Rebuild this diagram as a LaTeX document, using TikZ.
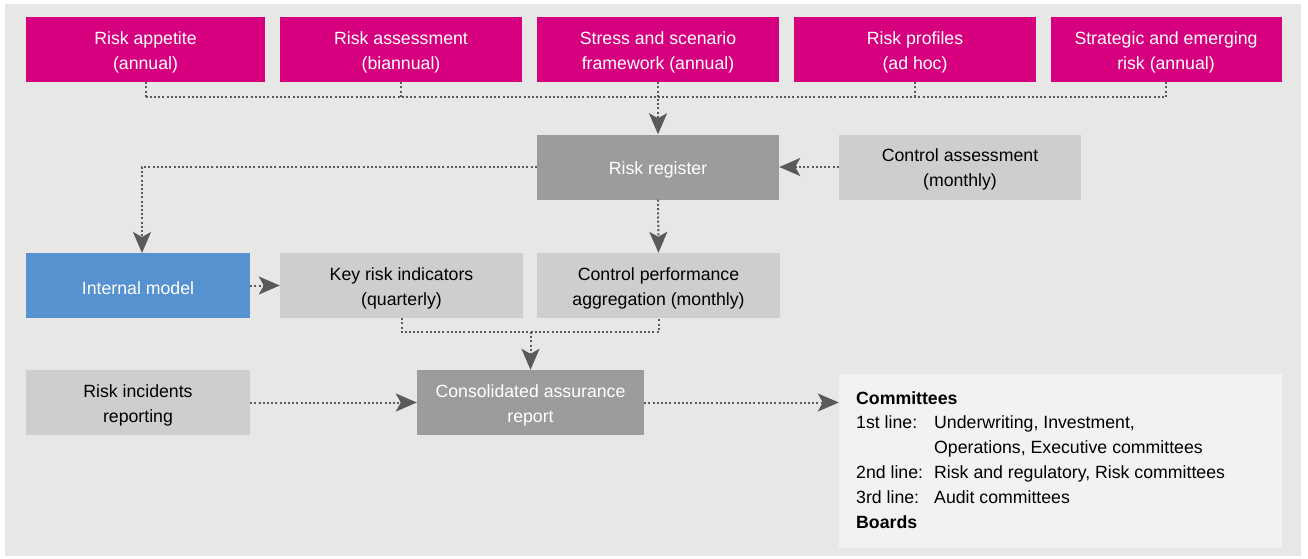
\documentclass[tikz,border=0pt]{standalone}
\usepackage{fontspec}
\setmainfont{Liberation Sans}
\usetikzlibrary{arrows.meta}
\definecolor{magbox}{HTML}{D6007F}
\definecolor{darkbox}{HTML}{9C9C9C}
\definecolor{lightbox}{HTML}{CECECE}
\definecolor{bluebox}{HTML}{5592CF}
\definecolor{bgcol}{HTML}{E7E7E6}
\definecolor{combox}{HTML}{F2F2F2}
\definecolor{linecol}{HTML}{5A5A5A}
\begin{document}
\begin{tikzpicture}[x=1pt,y=-1pt,
  every node/.style={font=\fontsize{17.7}{25}\selectfont},
  basebox/.style={rectangle, inner sep=0pt, minimum height=65pt, align=center},
  oneline/.style={text height=19pt},
  twoline/.style={text height=43pt},
  magentabox/.style={basebox, twoline, fill=magbox, text=white},
  darkgraybox/.style={basebox, fill=darkbox, text=white},
  lightgraybox/.style={basebox, fill=lightbox, text=black},
  bluebx/.style={basebox, fill=bluebox, text=white},
  dotline/.style={draw=linecol, line width=2pt, dash pattern=on 2pt off 2.2pt},
  arr/.style={dotline, -{Stealth[length=21pt,width=18pt,inset=5pt]}}]
\useasboundingbox (0,0) rectangle (1308,559);
\fill[white] (0,0) rectangle (1308,559);
\fill[bgcol] (5,4) rectangle (1301,556);

% top row
\node[magentabox, minimum width=239pt] (t1) at (145.5,49.5) {Risk appetite\\(annual)};
\node[magentabox, minimum width=242pt] (t2) at (401,49.5) {Risk assessment\\(biannual)};
\node[magentabox, minimum width=242pt] (t3) at (658,49.5) {Stress and scenario\\framework (annual)};
\node[magentabox, minimum width=242pt] (t4) at (915,49.5) {Risk profiles\\(ad hoc)};
\node[magentabox, minimum width=231pt] (t5) at (1166,49.5) {Strategic and emerging\\risk (annual)};

% second row
\node[darkgraybox, oneline, minimum width=242pt] (rr) at (658,167) {Risk register};
\node[lightgraybox, twoline, minimum width=242pt] (ca) at (960,167) {Control assessment\\(monthly)};

% third row
\node[bluebx, oneline, minimum width=224pt] (im) at (138,285.5) {Internal model};
\node[lightgraybox, twoline, minimum width=243pt] (kri) at (401.5,285.5) {Key risk indicators\\(quarterly)};
\node[lightgraybox, twoline, minimum width=243pt] (cpa) at (658.5,285.5) {Control performance\\aggregation (monthly)};

% fourth row
\node[lightgraybox, twoline, minimum width=224pt] (rir) at (138,402.5) {Risk incidents\\reporting};
\node[darkgraybox, twoline, minimum width=227pt] (car) at (530.5,402.5) {Consolidated assurance\\report};

% committees
\node[rectangle, fill=combox, minimum width=443pt, minimum height=174pt, inner sep=0pt] (com) at (1060.5,461) {};
\node[anchor=north west, align=left, inner sep=0pt, font=\fontsize{17.7}{24.8}\selectfont] (comtext) at (856,391)
  {\textbf{Committees}\\
   \makebox[78pt][l]{1st line:}Underwriting, Investment,\\
   \makebox[78pt][l]{}Operations, Executive committees\\
   \makebox[78pt][l]{2nd line:}Risk and regulatory, Risk committees\\
   \makebox[78pt][l]{3rd line:}Audit committees\\
   \textbf{Boards}};

% top bus
\coordinate (bus) at (0,97);
\draw[dotline] (t1.south) -- (t1.south |- bus);
\draw[dotline] (t2.south) -- (t2.south |- bus);
\draw[dotline] (t4.south) -- (t4.south |- bus);
\draw[dotline] (t5.south) -- (t5.south |- bus);
\draw[dotline] (t1.south |- bus) -- (t5.south |- bus);
\draw[arr] (t3.south) -- (rr.north);

% risk register connections
\coordinate (imtop) at (142,253);
\draw[arr] (rr.west) -| (imtop);
\draw[arr] (ca.west) -- (rr.east);
\draw[arr] (rr.south) -- (cpa.north);
\draw[arr] (im.east) -- (kri.west);

% merge to consolidated
\coordinate (bus2) at (0,332);
\draw[dotline] (kri.south) -- (kri.south |- bus2) -| (cpa.south);
\draw[arr] (car.north |- bus2) -- (car.north);

% bottom row
\draw[arr] (rir.east) -- (car.west);
\draw[arr] (car.east) -- (car.east -| com.west);
\end{tikzpicture}
\end{document}
